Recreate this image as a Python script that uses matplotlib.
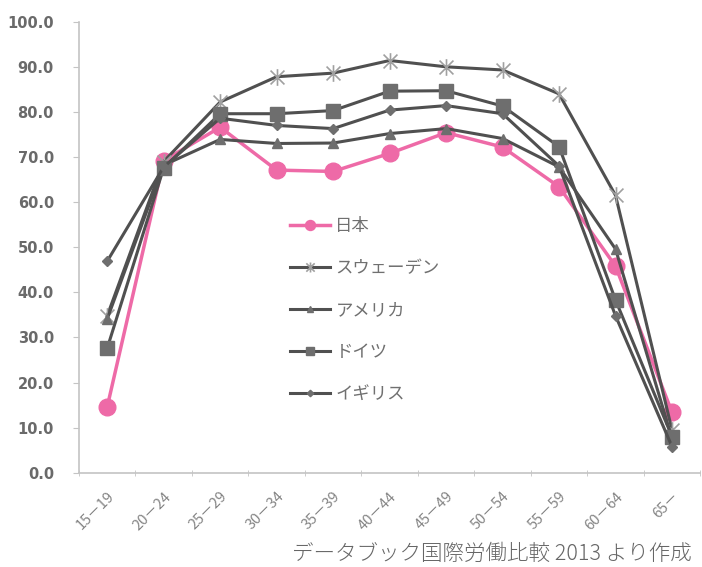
import numpy as np
import matplotlib
matplotlib.use('Agg')
import matplotlib.pyplot as plt
from matplotlib.path import Path

# 年齢階級別の女性労働力率
ages = ['15－19', '20－24', '25－29', '30－34', '35－39', '40－44',
        '45－49', '50－54', '55－59', '60－64', '65－']
japan = [14.6, 69.2, 76.6, 67.1, 66.8, 70.8, 75.4, 72.2, 63.4, 45.8, 13.4]
sweden = [34.8, 69.0, 82.2, 87.8, 88.6, 91.4, 90.0, 89.3, 84.0, 61.5, 9.5]
usa = [34.1, 68.2, 73.9, 73.0, 73.1, 75.2, 76.3, 74.1, 67.8, 49.6, 7.6]
germany = [27.6, 67.6, 79.6, 79.6, 80.3, 84.6, 84.7, 81.3, 72.3, 38.3, 8.0]
uk = [46.9, 67.8, 78.6, 77.0, 76.3, 80.4, 81.4, 79.6, 68.0, 34.8, 5.8]

# エクセル風のアスタリスク（×と縦線）
star = Path([(-1, -1), (1, 1), (-1, 1), (1, -1), (0, -1.2), (0, 1.2)],
            [Path.MOVETO, Path.LINETO, Path.MOVETO, Path.LINETO,
             Path.MOVETO, Path.LINETO])

fig = plt.figure(figsize=(7.02, 5.67), dpi=100)
ax = fig.add_axes([0.1125, 0.1663, 0.885, 0.7954])

x = np.arange(len(ages))
line_c = '#505050'
mark_c = '#6e6e6e'

ax.plot(x, japan, color='#ee6aa7', lw=2.5, marker='o', ms=12,
        mfc='#ee6aa7', mec='#ee6aa7', label='日本', zorder=2)
ax.plot(x, sweden, color=line_c, lw=2.2, marker=star, ms=12, mew=1.2,
        mec='#a0a0a0', label='スウェーデン', zorder=3)
ax.plot(x, usa, color=line_c, lw=2.2, marker='^', ms=7,
        mfc=mark_c, mec=mark_c, label='アメリカ', zorder=3)
ax.plot(x, germany, color=line_c, lw=2.2, marker='s', ms=10,
        mfc=mark_c, mec=mark_c, label='ドイツ', zorder=3)
ax.plot(x, uk, color=line_c, lw=2.2, marker='D', ms=5.5,
        mfc=mark_c, mec=mark_c, label='イギリス', zorder=3)

ax.set_xlim(-0.5, len(ages) - 0.5)
ax.set_ylim(0, 100)
ax.set_yticks(np.arange(0, 101, 10))
ax.set_yticklabels([f'{v:.1f}' for v in np.arange(0, 101, 10)])
ax.set_xticks(x)
ax.set_xticklabels(ages, rotation=45, ha='right', rotation_mode='anchor',
                   family=['Noto Sans CJK JP', 'DejaVu Sans'])
ax.set_xticks(np.arange(-0.5, len(ages)), minor=True)

for s in ['top', 'right']:
    ax.spines[s].set_visible(False)
for s in ['left', 'bottom']:
    ax.spines[s].set_color('#c4c4c4')
    ax.spines[s].set_linewidth(1.2)

ax.tick_params(axis='y', length=4, color='#c4c4c4', labelsize=10.5,
               labelcolor='#6a6a6a', pad=14)
ax.tick_params(axis='x', which='major', length=0, labelsize=10.5,
               labelcolor='#858585', pad=12)
ax.tick_params(axis='x', which='minor', length=4, color='#c4c4c4',
               direction='inout')
for t in ax.get_yticklabels():
    t.set_fontweight('bold')

leg = ax.legend(loc='upper left', bbox_to_anchor=(0.329, 0.582), frameon=False,
                prop={'family': 'Noto Sans CJK JP', 'size': 12.5},
                handlelength=2.3, handletextpad=0.3, labelspacing=1.38,
                borderaxespad=0, markerscale=0.6)
for t in leg.get_texts():
    t.set_color('#707070')

fig.text(0.985, 0.003, 'データブック国際労働比較 2013 より作成',
         ha='right', va='bottom', fontsize=15.5, color='#666666',
         fontweight='light', family=['Noto Sans CJK JP', 'DejaVu Sans'])

fig.savefig('out.png', dpi=100)
